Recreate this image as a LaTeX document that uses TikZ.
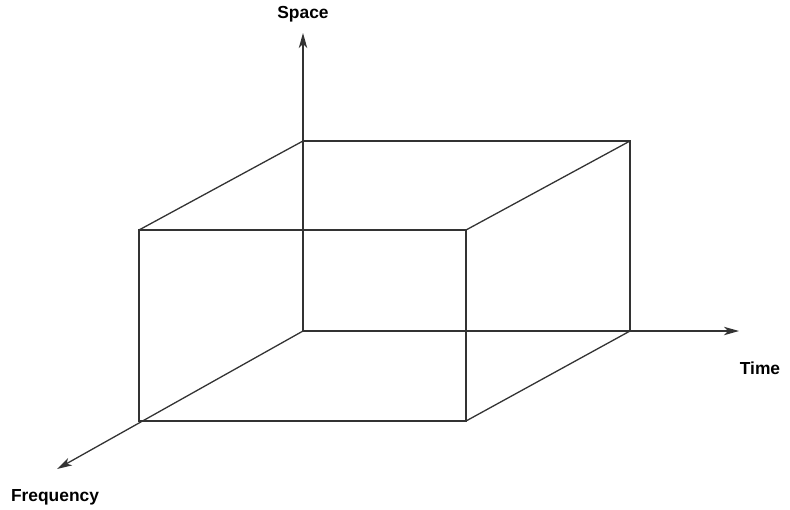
\documentclass[tikz,border=0pt]{standalone}
\usepackage{fontspec}
\setmainfont{Liberation Sans}
\usetikzlibrary{arrows.meta}

\tikzset{
    edge/.style={line width=0.65pt, draw=black!80},
    axis/.style={line width=0.65pt, draw=black!80, -{Stealth[length=7.5pt,width=4.2pt,inset=2pt]}},
    axislabel/.style={font=\fontsize{8.7}{10}\selectfont\bfseries}
}

\begin{document}
\begin{tikzpicture}[x=0.5pt,y=-0.5pt]

\useasboundingbox (0,0) rectangle (790,509);

% Coins du parallelepipede
\coordinate (o) at (303,331);
\coordinate (bt) at (303,141);
\coordinate (btr) at (630,141);
\coordinate (bbr) at (630,331);
\coordinate (ftl) at (139,230);
\coordinate (ftr) at (466,230);
\coordinate (fbr) at (466,421);
\coordinate (fbl) at (139,421);

% Axes
\coordinate (spacetip) at (303,33);
\coordinate (timetip) at (739,331);
\coordinate (freqtip) at (57,469);

\draw[axis] (o) -- (spacetip);
\draw[axis] (o) -- (timetip);
\draw[axis] (o) -- (freqtip);

% Face arriere
\draw[edge] (bt) -- (btr) -- (bbr);

% Face avant
\draw[edge] (ftl) -- (ftr) -- (fbr) -- (fbl) -- cycle;

% Aretes fuyantes
\foreach \a/\b in {ftl/bt,ftr/btr,fbr/bbr}
{
    \draw[edge] (\a) -- (\b);
}

\node[axislabel] (space) at (303,14) {Space};
\node[axislabel] (time) at (760,368) {Time};
\node[axislabel] (freq) at (55,497) {Frequency};

\end{tikzpicture}
\end{document}
